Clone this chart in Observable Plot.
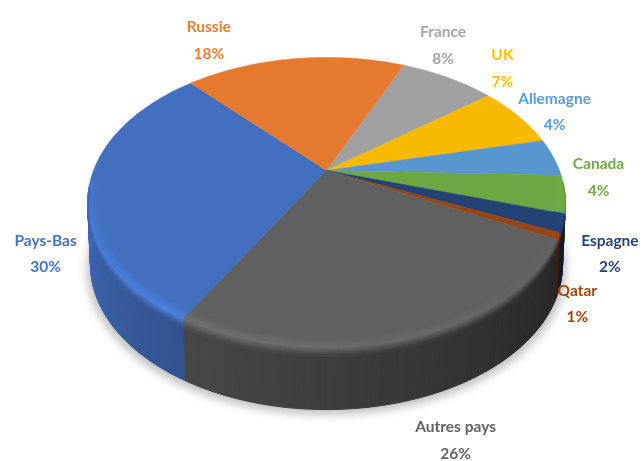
<!DOCTYPE html>
<html>
<head>
<meta charset="utf-8">
<script src="https://cdn.jsdelivr.net/npm/d3@7"></script>
<script src="https://cdn.jsdelivr.net/npm/@observablehq/plot@0.6"></script>
<style>
html,body{margin:0;padding:0;background:#fff}
svg{display:block}
</style>
</head>
<body>
<div id="chart"></div>
<script>
const pays = ["Pays-Bas","Russie","France","UK","Allemagne","Canada","Espagne","Qatar","Autres pays"];
const parts = [29.9,18.4,7.9,6.9,4.2,4.2,2.0,0.7,25.8];
const couleurs = ["#4472C4","#ED7D31","#A5A5A5","#FFC000","#5B9BD5","#70AD47","#264478","#9E480E","#636363"];

const W = 641, H = 461;
const startAngle = 209.7, cx = 326, cy = 170, R = 233, S = 138, k = 0.2206, depth = 62;
const rad = Math.PI / 180;
const topTone = 0.97;

function P(theta, r = 1) {
  const u = r * Math.sin(theta * rad), v = -r * Math.cos(theta * rad), w = 1 - k * v;
  return {x: cx + R * u / w, y: cy + S * v / w};
}
function B(theta, d) {
  const p = P(theta);
  return {x: cx + (p.x - cx) * (1 - 0.012 * d / depth), y: p.y + d};
}
function tint(hex, f) {
  const c = d3.rgb(hex);
  const g = x => Math.max(0, Math.min(255, x * f));
  return d3.rgb(g(c.r), g(c.g), g(c.b)).formatHex();
}
const norm = t => ((t % 360) + 360) % 360;
const sideShade = t => Math.max(0.40, 0.40 + (t - 120) * 0.0036);
const rimShade = t => 1 + 0.15 * Math.max(0, 1 - Math.abs(t - startAngle) / 90);

let acc = startAngle;
const slices = pays.map((name, i) => {
  const a = acc, b = acc + parts[i] * 3.6;
  acc = b;
  return {name, i, a, b, color: couleurs[i], pct: Math.round(parts[i])};
});

function arcAngles(a, b, step = 1) {
  const n = Math.max(2, Math.ceil((b - a) / step));
  return d3.range(n + 1).map(j => a + (b - a) * j / n);
}

// top face (closed outlines)
const topFace = slices.flatMap(s => {
  const c = tint(s.color, topTone);
  return [
    {id: s.name, x: cx, y: cy, c},
    ...arcAngles(s.a, s.b).map(t => ({id: s.name, ...P(t), c})),
    {id: s.name, x: cx, y: cy, c}
  ];
});

// side wall + bevel strips
const levels = [-7, -5, -3, -1, 1, 3, 5, 7, 9];
const pos = (t, d) => d < 0 ? P(t, 1 + d / 170) : B(t, d);
const walls = [], bevel = [];
let uid = 0;
const push = (arr, id, c, pts) => {
  for (const q of [...pts, pts[0]]) arr.push({id, ...q, c});
};
for (const s of slices) {
  const ang = arcAngles(s.a, s.b);
  for (let j = 0; j < ang.length - 1; j++) {
    const t0 = ang[j], t1 = ang[j + 1], m = norm((t0 + t1) / 2);
    if (m < 95 || m > 265) continue;
    const side = tint(s.color, sideShade(m));
    const last = levels[levels.length - 1];
    push(walls, "w" + uid++, side, [pos(t0, last), pos(t1, last), B(t1, depth), B(t0, depth)]);
    for (let l = 0; l < levels.length - 1; l++) {
      const tt = (l + 0.5) / (levels.length - 1);
      const h = rimShade(m), f = sideShade(m);
      const shade = tt < 0.42 ? topTone + (h - topTone) * tt / 0.42 : h + (f - h) * (tt - 0.42) / 0.58;
      push(bevel, "b" + uid++, tint(s.color, shade),
        [pos(t0, levels[l]), pos(t1, levels[l]), pos(t1, levels[l + 1]), pos(t0, levels[l + 1])]);
    }
  }
}

// soft shadow
const shadow = arcAngles(88, 272, 2).map(t => {
  const q = B(t, depth + 5);
  return {x: cx + (q.x - cx) * 1.015, y: q.y};
});

// labels: anchored on the middle of each slice's rim, nudged outward
const nudges = {
  "Pays-Bas": [-43.5, 64], "Russie": [-86, -22], "France": [-5, -36], "UK": [-16, -51],
  "Allemagne": [1, -49], "Canada": [33.5, -20], "Espagne": [47, 27], "Qatar": [18.5, 64],
  "Autres pays": [44, 99]
};

const labelMarks = slices.map(s => {
  const p = P((s.a + s.b) / 2);
  const [dx, dy] = nudges[s.name];
  return Plot.text([{...p, t: `${s.name}\n${s.pct}%`}], {
    x: "x", y: "y", text: "t", dx, dy,
    fill: s.color, fontSize: 15.5, fontWeight: 700,
    fontFamily: "Lato,'Liberation Sans',sans-serif",
    lineHeight: 1.72, textAnchor: "middle", imageFilter: "blur(0.35px)"
  });
});

const soft = "blur(0.5px)";
const chart = Plot.plot({
  width: W, height: H, margin: 0,
  x: {domain: [0, W], range: [0, W], axis: null},
  y: {domain: [0, H], range: [0, H], axis: null},
  color: {type: "identity"},
  style: {background: "#fff"},
  marks: [
    Plot.line(shadow, {x: "x", y: "y", fill: "#bdbdbd", imageFilter: "blur(5px)"}),
    Plot.line(walls, {x: "x", y: "y", z: "id", fill: "c", stroke: "c", strokeWidth: 1, imageFilter: soft}),
    Plot.line(topFace, {x: "x", y: "y", z: "id", fill: "c", stroke: "c", strokeWidth: 0.5, imageFilter: soft}),
    Plot.line(bevel, {x: "x", y: "y", z: "id", fill: "c", stroke: "c", strokeWidth: 1, imageFilter: soft}),
    ...labelMarks
  ]
});
document.getElementById("chart").append(chart);
</script>
</body>
</html>
